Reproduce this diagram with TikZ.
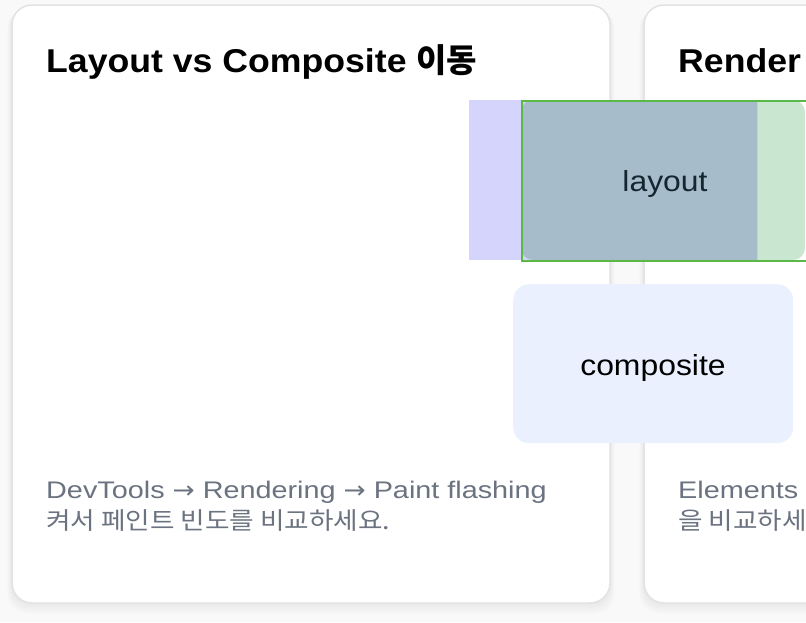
\documentclass[tikz,border=0pt]{standalone}
\usepackage{fontspec}
\setmainfont[FakeStretch=1.08]{Liberation Sans}
\newfontfamily\kr{Noto Sans CJK KR}
\newfontfamily\bodyfont[FakeStretch=1.2]{Liberation Sans}
\newfontfamily\krbody[FakeStretch=1.11]{Noto Sans CJK KR}
\newfontfamily\arrowfont[FakeStretch=1.1]{DejaVu Sans}
\newfontfamily\labelfont[FakeStretch=1.1]{Liberation Sans}
\definecolor{pagebg}{RGB}{249,249,250}
\definecolor{cardline}{RGB}{226,226,231}
\definecolor{ghostc}{RGB}{212,212,252}
\definecolor{greenc}{RGB}{201,230,209}
\definecolor{overc}{RGB}{167,188,203}
\definecolor{outlinec}{RGB}{90,185,70}
\definecolor{compc}{RGB}{234,240,253}
\definecolor{bodyc}{RGB}{107,114,128}
\definecolor{labc}{RGB}{20,38,46}
\newcommand{\rarr}{{\arrowfont →}}
\tikzset{
  card/.style={draw=cardline, line width=1.5pt, fill=white, rounded corners=20pt},
  titletxt/.style={anchor=base west, inner sep=0pt, font=\fontsize{33}{38}\selectfont\bfseries, text=black},
  bodytxt/.style={anchor=base west, inner sep=0pt, font=\fontsize{24}{28}\selectfont\bodyfont, text=bodyc},
  krtxt/.style={anchor=base west, inner sep=0pt, font=\fontsize{24}{28}\selectfont\krbody, text=bodyc},
  boxlabel/.style={anchor=base, inner sep=0pt, font=\fontsize{29}{34}\selectfont\labelfont},
}
\begin{document}
\begin{tikzpicture}[x=1pt,y=-1pt]
\useasboundingbox (0,0) rectangle (806,622);
\clip (0,0) rectangle (806,622);
\fill[pagebg] (0,0) rectangle (806,622);
% shadows
\foreach \d in {1,2,...,8}{
  \fill[black, opacity=0.006, rounded corners=20pt] (12-\d*0.6,5+\d*0.5) rectangle (610+\d*0.6,603+\d*1.4);
  \fill[black, opacity=0.006, rounded corners=20pt] (644-\d*0.6,5+\d*0.5) rectangle (1240+\d*0.6,603+\d*1.4);
}
% cards
\draw[card] (12,5) rectangle (610,603);
\draw[card] (644,5) rectangle (1240,603);
% titles
\node[titletxt] (t1) at (46,72) {Layout vs Composite {\kr 이동}};
\node[titletxt] (t2) at (678,72) {Render};
% descriptions
\node[bodytxt] (d1a) at (46,498) {DevTools \rarr\ Rendering \rarr\ Paint flashing};
\node[krtxt] (d1b) at (46,529) {켜서 페인트 빈도를 비교하세요.};
\node[bodytxt] (d2a) at (678,498) {Elements {\krbody 조}};
\node[krtxt] (d2b) at (678,529) {을 비교하세요.};
% layout demo
\node[fill=ghostc, minimum width=288pt, minimum height=160pt, inner sep=0pt, anchor=north west] (ghost) at (469,100) {};
\fill[greenc, rounded corners=12pt] (521,100) rectangle (805,260);
\begin{scope}
  \clip (ghost.north west) rectangle (ghost.south east);
  \fill[overc, rounded corners=12pt] (521,100) rectangle (805,260);
\end{scope}
\node[draw=outlinec, line width=2pt, minimum width=285pt, minimum height=160pt, inner sep=0pt, anchor=north west] (layoutbox) at (520.5,99.5) {};
\node[boxlabel, text=labc] (layouttxt) at (665,191) {layout};
% composite
\node[fill=compc, rounded corners=16pt, minimum width=280pt, minimum height=159pt, inner sep=0pt, anchor=north west] (compbox) at (513,284) {};
\node[boxlabel, text=black] (comptxt) at (653,375) {composite};
\end{tikzpicture}
\end{document}
